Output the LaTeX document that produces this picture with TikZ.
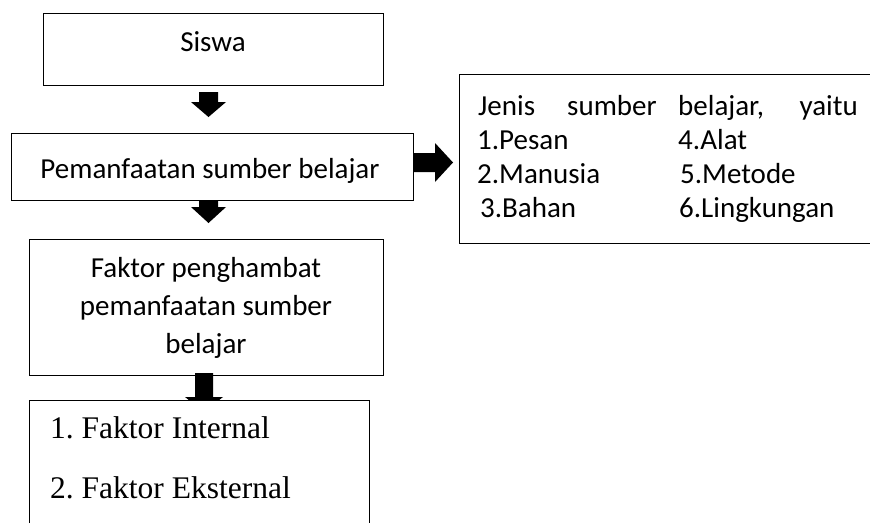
\documentclass[tikz,border=0pt]{standalone}
\usepackage{fontspec}
\setmainfont{Carlito}
\newfontfamily\timesfont{Liberation Serif}
\frenchspacing
\begin{document}
\begin{tikzpicture}[x=1pt,y=-1pt,
  boxline/.style={draw=black,line width=0.9pt},
  cal/.style={inner sep=0pt,font=\fontsize{29}{35}\selectfont},
  tim/.style={inner sep=0pt,font=\timesfont\fontsize{31.5}{38}\selectfont},
  blockarrow/.style={fill=black,draw=none}]
\useasboundingbox (0,0) rectangle (870,523);
% boxes
\node[boxline,anchor=north west,minimum width=340pt,minimum height=72pt,inner sep=0pt] (siswa) at (43,13) {};
\node[boxline,anchor=north west,minimum width=402pt,minimum height=67pt,inner sep=0pt] (pem) at (11,133) {};
\node[boxline,anchor=north west,minimum width=354pt,minimum height=136pt,inner sep=0pt] (faktor) at (29,239) {};
% texts
\node[cal,anchor=base] (tsiswa) at (213,51) {Siswa};
\node[cal,anchor=base] (tpem) at (210,178) {Pemanfaatan sumber belajar};
\node[cal,anchor=base] (tf1) at (206,277) {Faktor penghambat};
\node[cal,anchor=base] (tf2) at (206,315) {pemanfaatan sumber};
\node[cal,anchor=base] (tf3) at (206,353) {belajar};
% arrows
\path[blockarrow] (199,92) -- (218,92) -- (218,102) -- (226,102) -- (208.5,117) -- (191,102) -- (199,102) -- cycle;
\path[blockarrow] (199,200) -- (218,200) -- (218,207) -- (226,207) -- (208.5,223) -- (191,207) -- (199,207) -- cycle;
\path[blockarrow] (195,373) -- (213,373) -- (213,397) -- (223,397) -- (204,412) -- (185,397) -- (195,397) -- cycle;
\path[blockarrow] (413,153) -- (435,153) -- (435,143) -- (453,162.5) -- (435,182) -- (435,172) -- (413,172) -- cycle;
% bottom open box
\fill[white] (29,400) rectangle (369,523);
\draw[line width=0.9pt] (29,523) coordinate (b1) -- (29,400) coordinate (b2) -- (369,400) coordinate (b3) -- (369,523) coordinate (b4);
\node[tim,anchor=base west] (i1) at (50,438) {1. Faktor Internal};
\node[tim,anchor=base west] (i2) at (50,498) {2. Faktor Eksternal};
% right open box
\draw[line width=0.9pt] (870,74) coordinate (r1) -- (459,74) coordinate (r2) -- (459,243) coordinate (r3) -- (870,243) coordinate (r4);
\node[cal,anchor=base west] (j1) at (478,115) {Jenis};
\node[cal,anchor=base west] (j2) at (567,115) {sumber};
\node[cal,anchor=base west] (j3) at (678,115) {belajar,};
\node[cal,anchor=base east] (j4) at (858,115) {yaitu};
\node[cal,anchor=base west] (p1) at (477,149) {1.Pesan};
\node[cal,anchor=base west] (p2) at (477,183) {2.Manusia};
\node[cal,anchor=base west] (p3) at (480,217) {3.Bahan};
\node[cal,anchor=base west] (p4) at (678,149) {4.Alat};
\node[cal,anchor=base west] (p5) at (680,183) {5.Metode};
\node[cal,anchor=base west] (p6) at (679,217) {6.Lingkungan};
\end{tikzpicture}
\end{document}
